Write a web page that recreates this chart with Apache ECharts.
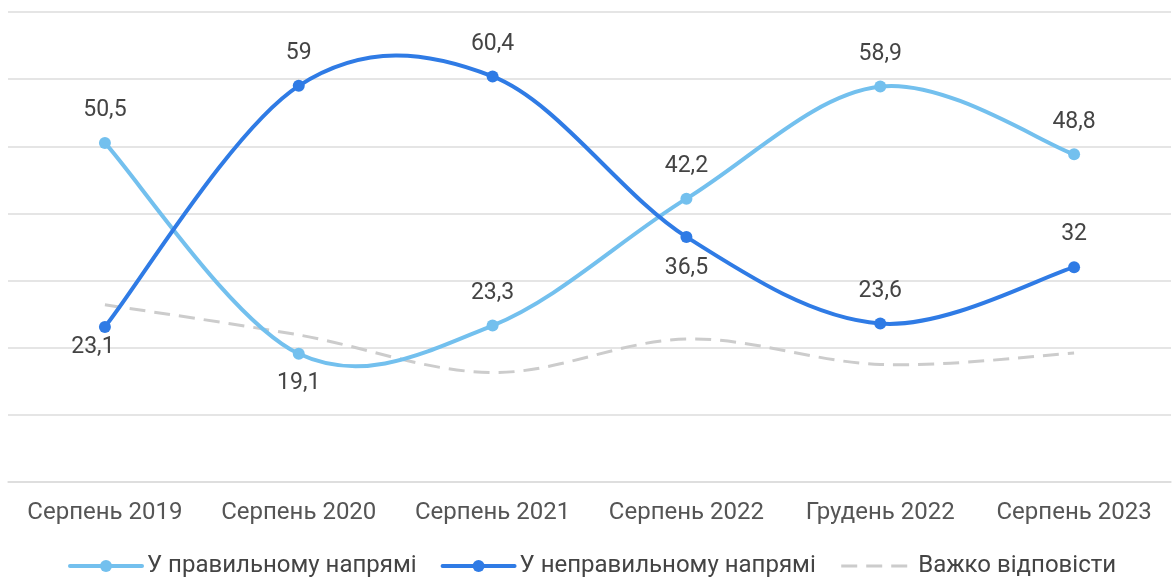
<!DOCTYPE html>
<html>
<head>
<meta charset="utf-8">
<script src="https://cdn.jsdelivr.net/npm/echarts@6/dist/echarts.min.js"></script>
<style>
html,body{margin:0;padding:0;background:#fff;}
#c{width:1173px;height:578px;}
</style>
</head>
<body>
<div id="c"></div>
<script>
const categories = ['Серпень 2019', 'Серпень 2020', 'Серпень 2021', 'Серпень 2022', 'Грудень 2022', 'Серпень 2023'];
const seriesNames = ['У правильному напрямі', 'У неправильному напрямі', 'Важко відповісти'];
const rightDirection = [50.5, 19.1, 23.3, 42.2, 58.9, 48.8];
const wrongDirection = [23.1, 59, 60.4, 36.5, 23.6, 32];
const hardToSay = [26.4, 21.9, 16.3, 21.3, 17.5, 19.2];

const FONT = 'Roboto';
const COLORS = ['#73c0ee', '#2f7be5', '#cccccc'];
const TENSION = 0.17;

function fmt(v) { return String(v).replace('.', ','); }

function labeled(values, below, overrides) {
  return values.map(function (v, i) {
    const item = { value: v };
    if (below.indexOf(i) >= 0) item.label = { position: 'bottom', distance: 12 };
    if (overrides && overrides[i]) item.label = Object.assign(item.label || {}, overrides[i]);
    return item;
  });
}

const baseLabel = {
  show: true,
  position: 'top',
  distance: 15,
  color: '#444',
  fontFamily: FONT,
  fontSize: 23,
  formatter: function (p) { return fmt(p.value); }
};

// Smooth curve through the data points, positioned by the chart's own axes.
function curveSeries(values, style, z) {
  return {
    type: 'custom',
    coordinateSystem: 'cartesian2d',
    silent: true,
    clip: false,
    z: z,
    data: values.map(function (v, i) { return [i, v]; }),
    encode: { x: 0, y: 1 },
    renderItem: function (params, api) {
      if (params.dataIndex !== 0) return null;
      const n = values.length;
      const pts = values.map(function (v, i) { return api.coord([i, v]); });
      const P = function (j) { return pts[Math.max(0, Math.min(n - 1, j))]; };
      let d = 'M' + pts[0][0] + ' ' + pts[0][1];
      for (let i = 0; i < n - 1; i++) {
        const p0 = P(i - 1), p1 = P(i), p2 = P(i + 1), p3 = P(i + 2);
        const c1x = p1[0] + (p2[0] - p0[0]) * TENSION;
        const c1y = p1[1] + (p2[1] - p0[1]) * TENSION;
        const c2x = p2[0] - (p3[0] - p1[0]) * TENSION;
        const c2y = p2[1] - (p3[1] - p1[1]) * TENSION;
        d += ' C' + c1x + ' ' + c1y + ' ' + c2x + ' ' + c2y + ' ' + p2[0] + ' ' + p2[1];
      }
      return {
        type: 'path',
        shape: { pathData: d },
        style: Object.assign({ fill: null, lineCap: 'round', lineJoin: 'round' }, style)
      };
    }
  };
}

const chart = echarts.init(document.getElementById('c'), null, { renderer: 'canvas' });
chart.setOption({
  animation: false,
  backgroundColor: '#fff',
  grid: { left: 8, right: 2, top: 12, bottom: 96, containLabel: false },
  xAxis: {
    type: 'category',
    data: categories,
    boundaryGap: true,
    axisLine: { show: true, lineStyle: { color: '#dcdcdc', width: 1.5 } },
    axisTick: { show: false },
    axisLabel: { color: '#555', fontFamily: FONT, fontSize: 24, margin: 19, interval: 0 }
  },
  yAxis: {
    type: 'value',
    min: 0,
    max: 70,
    interval: 10,
    axisLabel: { show: false },
    axisLine: { show: false },
    axisTick: { show: false },
    splitLine: { lineStyle: { color: '#dcdcdc', width: 1.5 } }
  },
  legend: {
    left: 68,
    top: 554,
    padding: 0,
    itemWidth: 72,
    itemHeight: 15,
    itemGap: 24,
    textStyle: { color: '#444', fontFamily: FONT, fontSize: 24 },
    lineStyle: { width: 4, opacity: 1, cap: 'round' },
    data: [
      { name: seriesNames[0] },
      { name: seriesNames[1] },
      { name: seriesNames[2], lineStyle: { width: 3, opacity: 1, cap: 'butt' }, itemStyle: { opacity: 0 } }
    ]
  },
  series: [
    curveSeries(hardToSay, { stroke: COLORS[2], lineWidth: 3, lineDash: [16, 9], lineCap: 'butt' }, 1),
    curveSeries(rightDirection, { stroke: COLORS[0], lineWidth: 4 }, 2),
    curveSeries(wrongDirection, { stroke: COLORS[1], lineWidth: 4 }, 3),
    {
      name: seriesNames[0],
      type: 'line',
      data: labeled(rightDirection, [1]),
      symbol: 'circle',
      symbolSize: 12,
      lineStyle: { width: 4, color: COLORS[0], opacity: 0 },
      itemStyle: { color: COLORS[0] },
      label: baseLabel,
      z: 5
    },
    {
      name: seriesNames[1],
      type: 'line',
      data: labeled(wrongDirection, [0, 3], { 0: { distance: 3, offset: [-12, 0] }, 3: { distance: 14 } }),
      symbol: 'circle',
      symbolSize: 12,
      lineStyle: { width: 4, color: COLORS[1], opacity: 0 },
      itemStyle: { color: COLORS[1] },
      label: baseLabel,
      z: 6
    },
    {
      name: seriesNames[2],
      type: 'line',
      data: hardToSay,
      symbol: 'none',
      showSymbol: false,
      lineStyle: { width: 3, color: COLORS[2], type: [16, 9], opacity: 0 },
      itemStyle: { color: COLORS[2] },
      label: { show: false },
      z: 1
    }
  ]
});
</script>
</body>
</html>
